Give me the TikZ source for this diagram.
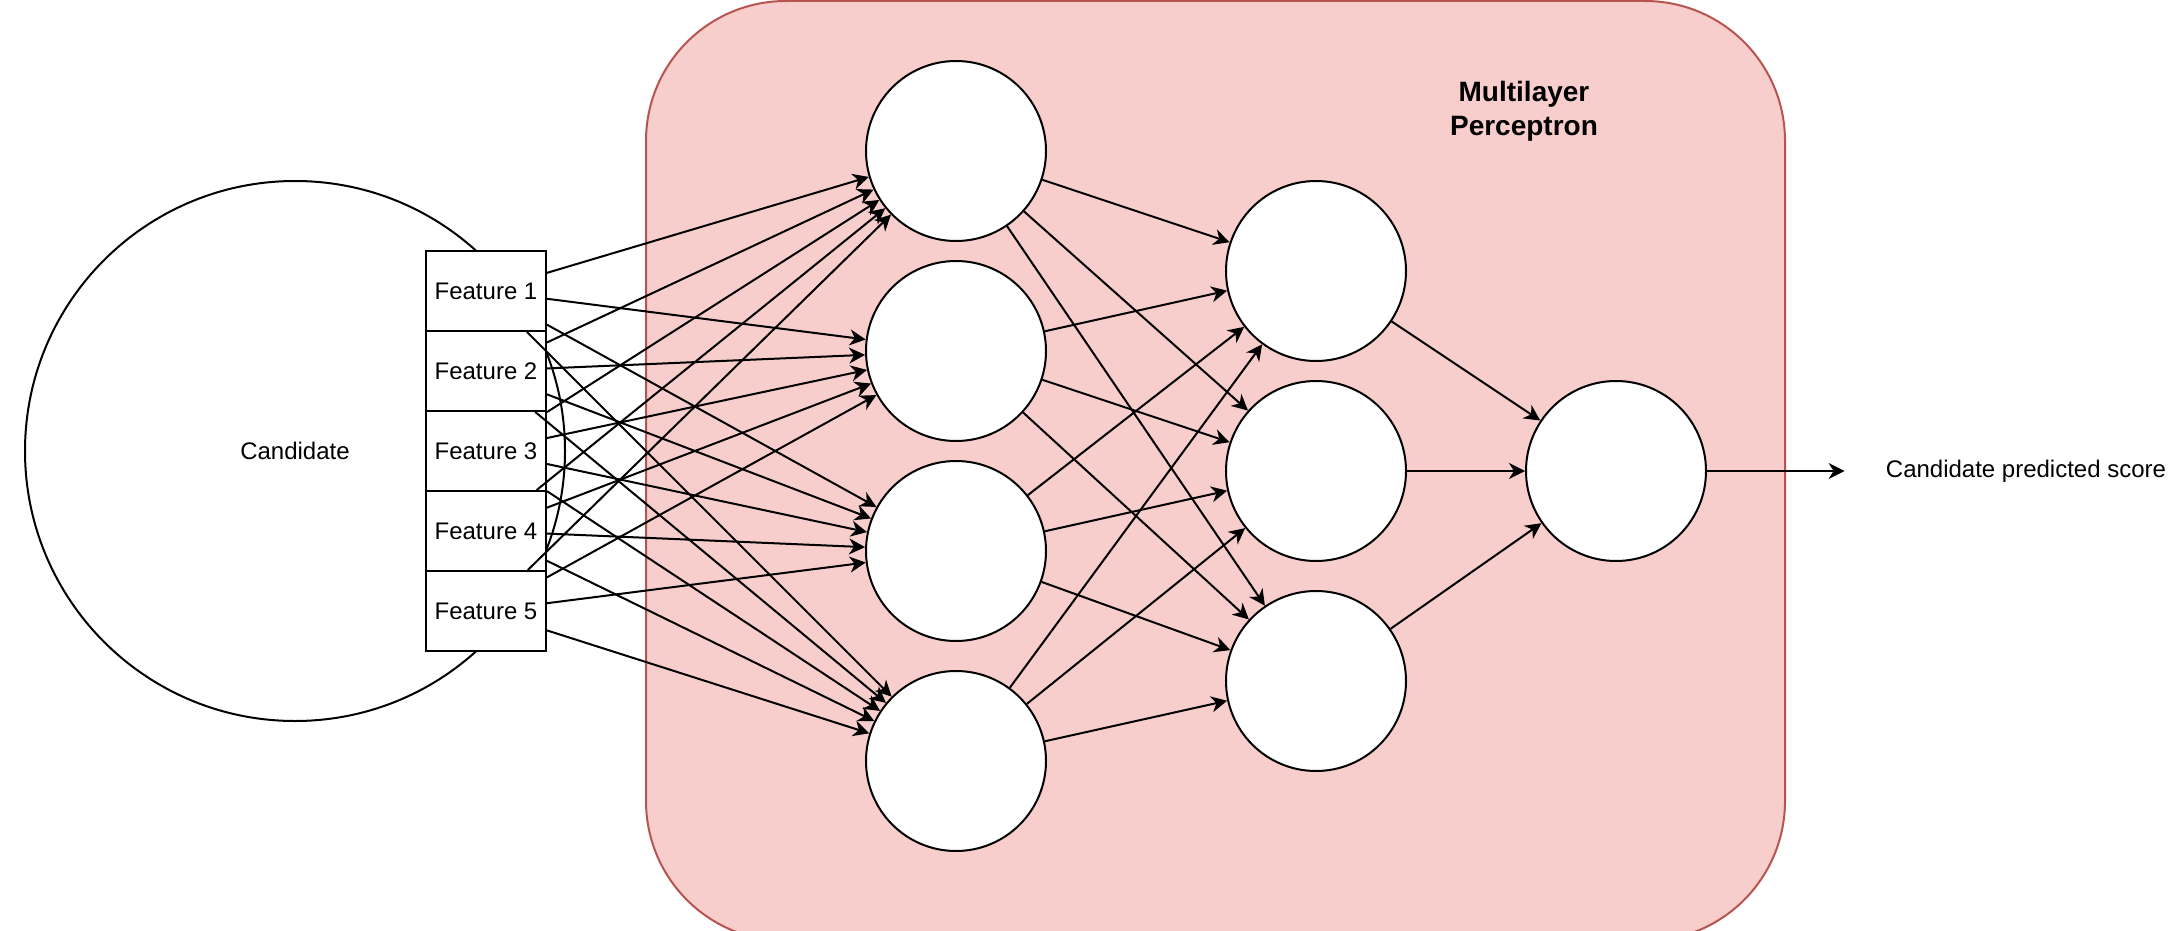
\documentclass[tikz,border=0pt]{standalone}
\usepackage{fontspec}
\setmainfont{Liberation Sans}
\usepackage{tikz}
\usepackage{xcolor}
\usetikzlibrary{arrows.meta, positioning}
\definecolor{cPanel}{HTML}{F8CECC}
\definecolor{cPanelLine}{HTML}{B85450}
\tikzset{
	panel/.style  ={rectangle, rounded corners=70pt, draw=cPanelLine, fill=cPanel, line width=1pt, minimum width=569.5pt, minimum height=470pt},
	cand/.style   ={circle, draw=black, line width=1pt, minimum size=270pt, inner sep=0pt},
	feat/.style   ={rectangle, draw=black, fill=white, line width=1pt, minimum width=60pt, minimum height=40pt, inner sep=0pt},
	neuron/.style ={circle, draw=black, fill=white, line width=1pt, minimum size=90pt, inner sep=0pt},
	wire/.style   ={-{Stealth[length=8pt, width=8pt, inset=2.5pt]}, line width=1pt},
}

\begin{document}
\begin{tikzpicture}[x=0.5pt, y=-0.5pt, font=\fontsize{12}{14.4}\selectfont]
	\useasboundingbox (0,0) rectangle (2180,931);
	\clip (0,0) rectangle (2180,931);
	% perceptron container
	\node[panel] (mlp) at (1215.5,471) {};
	\node[align=center, font=\fontsize{14}{16.8}\selectfont\bfseries] (title) at (1524,111) {Multilayer\\Perceptron};
	% candidate and its features
	\node[cand] (cnd) at (295,451) {Candidate};
	\foreach \i in {1,...,5} \node[feat] (f\i) at (486,{211+80*\i}) {Feature \i};
	% layers
	\foreach \y [count=\j] in {151,351,551,761} \node[neuron] (ha\j) at (956,\y) {};
	\foreach \y [count=\k] in {271,471,681} \node[neuron] (hb\k) at (1316,\y) {};
	\node[neuron] (out) at (1616,471) {};
	\node[minimum width=181pt, inner sep=0pt] (score) at (2026,471) {Candidate predicted score};
	% connections
	\foreach \i in {1,...,5} {\foreach \j in {1,...,4} \draw[wire] (f\i) -- (ha\j);}
	\foreach \j in {1,...,4} {\foreach \k in {1,...,3} \draw[wire] (ha\j) -- (hb\k);}
	\foreach \k in {1,...,3} \draw[wire] (hb\k) -- (out);
	\draw[wire] (out) -- (score);
\end{tikzpicture}
\end{document}
